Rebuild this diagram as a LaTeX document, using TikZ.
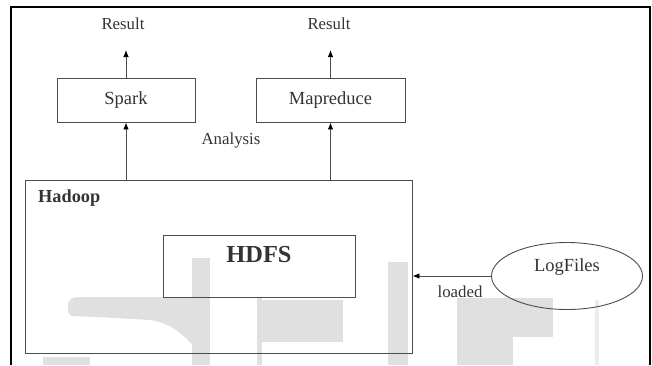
\documentclass[tikz,border=0pt]{standalone}
\usepackage{fontspec}
\setmainfont{Liberation Serif}
\usetikzlibrary{arrows.meta,shapes.geometric}
\definecolor{ink}{HTML}{333333}
\definecolor{wmark}{HTML}{E0E0E0}
\begin{document}
\begin{tikzpicture}[x=1pt,y=-1pt,
  box/.style={draw=black!70, line width=0.9pt, inner sep=0pt},
  arr/.style={draw=black!70, line width=0.9pt, -{Latex[length=7pt,width=5.5pt,fill=black,color=black]}},
  small/.style={text=ink, font=\fontsize{16.8}{18}\selectfont, inner sep=0pt},
  mid/.style={text=ink, font=\fontsize{18.5}{20}\selectfont, inner sep=0pt},
  wm/.style={fill=wmark, draw=none}]
\useasboundingbox (0,0) rectangle (652,365);
% watermark
\fill[wm] (68,306) .. controls (68,299) and (72,297) .. (80,297) -- (197,297) -- (197,350)
  .. controls (185,336) and (172,323) .. (150,320) -- (97,317) -- (72,316) .. controls (68,314) .. (68,306) -- cycle;
\fill[wm] (192,258) rectangle (210,365);
\fill[wm] (257,298) rectangle (262,365);
\fill[wm] (262,300) rectangle (343,342);
\fill[wm] (388,262) rectangle (408,365);
\fill[wm] (457,298) rectangle (553,337);
\fill[wm] (457,337) rectangle (513,365);
\fill[wm] (43,357) rectangle (90,365);
\fill[wmark!60] (595,300) rectangle (599,365);
% frame
\draw[line width=1.8pt, black] (11,365) -- (11,7) -- (650,7) -- (650,365);
% nodes
\node[box, minimum width=138pt, minimum height=44pt] (spark) at (126,100) {};
\node[mid] (sparkt) at (126,100) {Spark};
\node[box, minimum width=149pt, minimum height=44pt] (mapr) at (330.5,100) {};
\node[mid] (maprt) at (330.5,100) {Mapreduce};
\node[small] (res1) at (123,24) {Result};
\node[small] (res2) at (329,24) {Result};
\coordinate (tip1) at (126,50);
\coordinate (tip2) at (330.5,50);
\node[small] (analysis) at (231,140) {Analysis};
\node[box, minimum width=387pt, minimum height=173pt] (hadoop) at (218.5,266.5) {};
\node[text=ink, font=\fontsize{18.3}{20}\selectfont\bfseries, inner sep=0pt, anchor=west] (hadoopt) at (38,198) {Hadoop};
\node[box, minimum width=192pt, minimum height=62pt] (hdfs) at (259,266) {};
\node[text=ink, font=\fontsize{24.4}{26}\selectfont\bfseries, inner sep=0pt] (hdfst) at (259,255) {HDFS};
\node[box, ellipse, minimum width=151pt, minimum height=67pt] (logf) at (567,276) {};
\node[mid] (logft) at (567,267) {LogFiles};
\node[small] (loaded) at (460,292) {loaded};
% connectors
\draw[arr] (spark.north) -- (tip1);
\draw[arr] (mapr.north) -- (tip2);
\draw[arr] (hadoop.north -| spark.south) -- (spark.south);
\draw[arr] (hadoop.north -| mapr.south) -- (mapr.south);
\draw[arr] (logf.west) -- (logf.west -| hadoop.east);
\end{tikzpicture}
\end{document}
